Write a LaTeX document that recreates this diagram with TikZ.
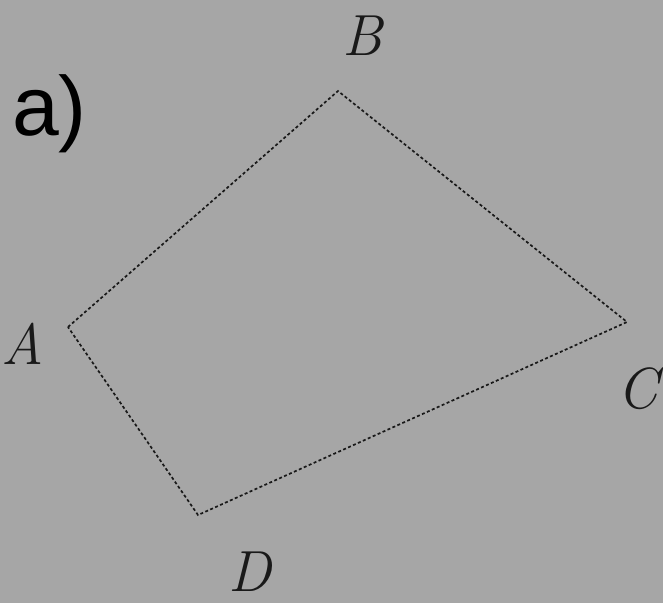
\documentclass[tikz,border=0pt]{standalone}
\usepackage{fontspec}
\newfontfamily\labelsans{Liberation Sans}
\usepackage{tikz}
\definecolor{paper}{RGB}{166,166,166}
\definecolor{ink}{RGB}{25,25,25}
\tikzset{side/.style={ink,line width=1.7pt,dash pattern=on 3pt off 2.4pt},
	vlabel/.style={ink,inner sep=0pt,font=\fontsize{58}{58}\selectfont\itshape}}

\begin{document}
\begin{tikzpicture}[x=1pt,y=-1pt]
				\fill[paper] (0,0) rectangle (663,603);
				\useasboundingbox (0,0) rectangle (663,603);
				\coordinate (A) at (68,327);
				\coordinate (B) at (338,91);
				\coordinate (C) at (627,322);
				\coordinate (D) at (198,515);
				\draw[side] (A) -- (B) -- (C) -- (D) -- cycle;
				\node[vlabel] (lA) at (23,344){A};
				\node[vlabel] (lB) at (362,36){B};
				\node[vlabel] (lC) at (638,389){C};
				\node[vlabel] (lD) at (250,572){D};
				\node[inner sep=0pt,anchor=base west,font=\labelsans\fontsize{84}{84}\selectfont] (part) at (12,135){a)};
			\end{tikzpicture}
\end{document}
